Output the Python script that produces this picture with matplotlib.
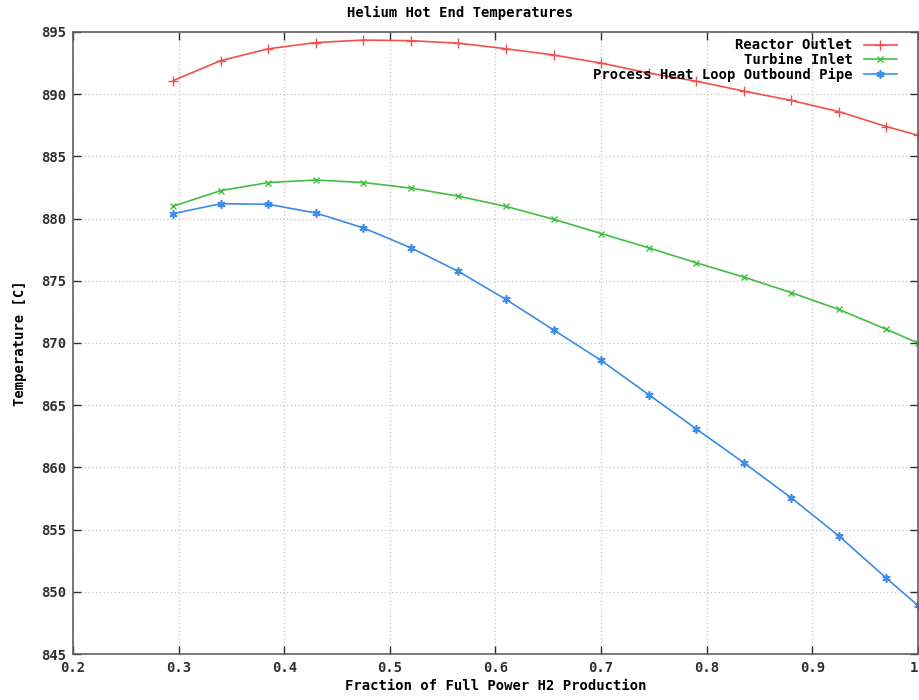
import matplotlib

matplotlib.use("Agg")
import matplotlib.pyplot as plt
from matplotlib.ticker import FixedLocator, FixedFormatter

# fraction of full power H2 production (x) and hot end temperatures [C]
fraction = [0.295, 0.34, 0.385, 0.43, 0.475, 0.52, 0.565, 0.61, 0.655,
            0.70, 0.745, 0.79, 0.835, 0.88, 0.925, 0.97, 1.0]
reactor_outlet = [891.1, 892.7, 893.65, 894.15, 894.35, 894.3, 894.1, 893.65,
                  893.15, 892.5, 891.7, 891.05, 890.25, 889.5, 888.6, 887.4,
                  886.7]
turbine_inlet = [881.0, 882.25, 882.9, 883.1, 882.9, 882.45, 881.8, 880.98,
                 879.95, 878.8, 877.65, 876.45, 875.3, 874.05, 872.7, 871.1,
                 870.0]
process_heat = [880.4, 881.2, 881.15, 880.45, 879.25, 877.65, 875.75, 873.5,
                871.05, 868.6, 865.85, 863.1, 860.38, 857.55, 854.5, 851.1,
                848.9]

x_ticks = [0.2, 0.3, 0.4, 0.5, 0.6, 0.7, 0.8, 0.9, 1.0]
x_tick_labels = ["0.2", "0.3", "0.4", "0.5", "0.6", "0.7", "0.8", "0.9", "1"]
y_ticks = [845, 850, 855, 860, 865, 870, 875, 880, 885, 890, 895]

FONT = {"family": "DejaVu Sans Mono", "weight": "bold", "size": 10}

fig = plt.figure(figsize=(9.2, 7.0), dpi=100)
ax = fig.add_axes([0.0793, 0.0657, 0.9185, 0.8886])

ax.plot(fraction, reactor_outlet, color="#f05050", lw=1.2, marker="+",
        ms=7, mew=1.0, label="Reactor Outlet")
ax.plot(fraction, turbine_inlet, color="#40c040", lw=1.2, marker="x",
        ms=5, mew=1.0, label="Turbine Inlet")
ax.plot(fraction, process_heat, color="#3a8ce8", lw=1.2, marker=(6, 2, 0),
        ms=6, mew=1.2, label="Process Heat Loop Outbound Pipe")

ax.set_xlim(0.2, 1.0)
ax.set_ylim(845, 895)
ax.xaxis.set_major_locator(FixedLocator(x_ticks))
ax.xaxis.set_major_formatter(FixedFormatter(x_tick_labels))
ax.yaxis.set_major_locator(FixedLocator(y_ticks))

ax.grid(True, color="#c4c4c4", linestyle=(0, (1, 2)), linewidth=0.9)
ax.tick_params(direction="in", length=6, width=1.0, top=True, right=True,
               colors="#303030", pad=5)
for lab in ax.get_xticklabels() + ax.get_yticklabels():
    lab.set_fontfamily(FONT["family"])
    lab.set_fontweight(FONT["weight"])
    lab.set_fontsize(FONT["size"])
# the "1" sits on the figure edge, keep it inside
ax.get_xticklabels()[-1].set_horizontalalignment("right")
for sp in ax.spines.values():
    sp.set_color("#606060")
    sp.set_linewidth(1.2)

ax.set_xlabel("Fraction of Full Power H2 Production", fontdict=FONT,
              labelpad=3)
ax.set_ylabel("Temperature [C]", fontdict=FONT, labelpad=10)
fig.text(0.5, 0.982, "Helium Hot End Temperatures", ha="center",
         va="center", fontdict=FONT)

ax.legend(loc="upper right", bbox_to_anchor=(0.985, 1.003), frameon=False,
          markerfirst=False, prop={"family": FONT["family"],
                                   "weight": "bold", "size": 10},
          handlelength=2.4, handletextpad=0.8, labelspacing=0.05,
          borderaxespad=0.2)

fig.savefig("out.png", dpi=100)
